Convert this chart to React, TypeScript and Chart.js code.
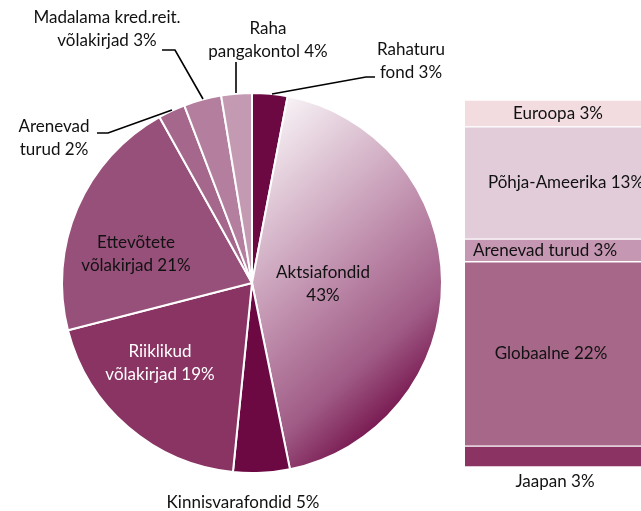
import React, { useEffect, useRef } from "react";
import { Chart, registerables } from "chart.js";

Chart.register(...registerables);

// ---- Pie data (clockwise from 12 o'clock) ----
const pieCategories = [
  "Rahaturu fond",
  "Aktsiafondid",
  "Kinnisvarafondid",
  "Riiklikud võlakirjad",
  "Ettevõtete võlakirjad",
  "Arenevad turud",
  "Madalama kred.reit. võlakirjad",
  "Raha pangakontol",
];
const pieValues = [3.0, 43.8, 4.8, 19.4, 20.9, 2.3, 3.2, 2.6];
const pieLabelText = [
  ["Rahaturu", "fond 3%"],
  ["Aktsiafondid", "43%"],
  ["Kinnisvarafondid 5%"],
  ["Riiklikud", "võlakirjad 19%"],
  ["Ettevõtete", "võlakirjad 21%"],
  ["Arenevad", "turud 2%"],
  ["Madalama kred.reit.", "võlakirjad 3%"],
  ["Raha", "pangakontol 4%"],
];

// ---- Stacked bar data (bottom to top) ----
const barCategories = ["Jaapan", "Globaalne", "Arenevad turud", "Põhja-Ameerika", "Euroopa"];
const barValues = [2.5, 22.0, 2.7, 13.4, 3.2];
const barLabelText = ["Jaapan 3%", "Globaalne 22%", "Arenevad turud 3%", "Põhja-Ameerika 13%", "Euroopa 3%"];

// ---- Styles / layout ----
const pieColors = ["#6C0842", null, "#6C0842", "#8A3464", "#975079", "#A5688C", "#B47E9F", "#C49AB3"];
const pieTextColors = ["#111", "#111", "#111", "#ffffff", "#111", "#111", "#111", "#111"];
const pieLabelPos = [
  [411, 50],
  [323, 273],
  [243, 503],
  [160, 352],
  [136, 243],
  [54, 127],
  [107, 18],
  [268, 29],
];
const leaderLines = [
  [[375, 77], [366, 77], [272, 94]],
  null,
  null,
  null,
  null,
  [[97, 133], [108, 133], [172, 110]],
  [[162, 50], [175, 50], [203, 99]],
  [[236, 62], [236, 93]],
];
const barColors = ["#8B3363", "#A66789", "#C597B2", "#E2CCDA", "#F2DCE0"];
const barLabelDx = [0, -4, -10, 11, 3];
const FONT = "17px Lato, 'Open Sans', sans-serif";
const LINE_H = 23;

export default function App() {
  const pieRef = useRef<HTMLCanvasElement>(null);
  const barRef = useRef<HTMLCanvasElement>(null);

  useEffect(() => {
    const pieCanvas = pieRef.current!;
    const barCanvas = barRef.current!;

    const pieLabelPlugin = {
      id: "pieLabels",
      afterDraw(chart: any) {
        const ctx = chart.ctx;
        ctx.save();
        ctx.strokeStyle = "#000";
        ctx.lineWidth = 1.6;
        leaderLines.forEach((pts) => {
          if (!pts) return;
          ctx.beginPath();
          ctx.moveTo(pts[0][0], pts[0][1]);
          for (let i = 1; i < pts.length; i++) ctx.lineTo(pts[i][0], pts[i][1]);
          ctx.stroke();
        });
        ctx.font = FONT;
        ctx.textAlign = "center";
        ctx.textBaseline = "middle";
        pieLabelText.forEach((lines, i) => {
          ctx.fillStyle = pieTextColors[i];
          lines.forEach((t, j) => {
            ctx.fillText(t, pieLabelPos[i][0], pieLabelPos[i][1] + j * LINE_H);
          });
        });
        ctx.restore();
      },
    };

    const pie = new Chart(pieCanvas, {
      type: "pie",
      data: {
        labels: pieCategories,
        datasets: [
          {
            data: pieValues,
            backgroundColor: (c: any) => {
              const i = c.dataIndex;
              if (pieColors[i]) return pieColors[i] as string;
              const ctx = c.chart.ctx;
              const g = ctx.createLinearGradient(270, 110, 482, 344);
              g.addColorStop(0, "#F8F3F6");
              g.addColorStop(0.53, "#BE8CAB");
              g.addColorStop(0.79, "#A05C86");
              g.addColorStop(1, "#73104A");
              return g;
            },
            borderColor: "#ffffff",
            borderWidth: 2,
          },
        ],
      },
      options: {
        responsive: false,
        animation: false,
        layout: { padding: { left: 61, top: 92, right: 198, bottom: 37 } },
        plugins: { legend: { display: false }, tooltip: { enabled: false } },
      },
      plugins: [pieLabelPlugin],
    });

    const barLabelPlugin = {
      id: "barLabels",
      afterDraw(chart: any) {
        const ctx = chart.ctx;
        ctx.save();
        ctx.font = FONT;
        ctx.textAlign = "center";
        ctx.textBaseline = "middle";
        ctx.fillStyle = "#111";
        chart.data.datasets.forEach((ds: any, i: number) => {
          const el = chart.getDatasetMeta(i).data[0];
          const cx = el.x + barLabelDx[i];
          let cy = (el.y + el.base) / 2;
          if (i === 0) cy = el.base + 15;
          ctx.fillText(barLabelText[i], cx, cy);
        });
        ctx.restore();
      },
    };

    const bar = new Chart(barCanvas, {
      type: "bar",
      data: {
        labels: ["Aktsiafondid"],
        datasets: barCategories.map((name, i) => ({
          label: name,
          data: [barValues[i]],
          backgroundColor: barColors[i],
          borderColor: "#ffffff",
          borderWidth: { top: 1, bottom: 1, left: 0, right: 0 },
          borderSkipped: false,
          categoryPercentage: 1,
          barPercentage: 1,
        })),
      },
      options: {
        responsive: false,
        animation: false,
        layout: { padding: { left: 25, right: 5, top: 100, bottom: 44 } },
        scales: {
          x: { stacked: true, display: false },
          y: {
            stacked: true,
            display: false,
            min: 0,
            max: barValues.reduce((a, b) => a + b, 0),
          },
        },
        plugins: { legend: { display: false }, tooltip: { enabled: false } },
      },
      plugins: [barLabelPlugin],
    });

    return () => {
      pie.destroy();
      bar.destroy();
    };
  }, []);

  return (
    <div
      style={{
        position: "fixed",
        left: 0,
        top: 0,
        width: 641,
        height: 511,
        overflow: "hidden",
        background: "#ffffff",
      }}
    >
      <canvas
        ref={pieRef}
        width={641}
        height={511}
        style={{ position: "absolute", left: 0, top: 0, width: 641, height: 511 }}
      />
      <canvas
        ref={barRef}
        width={210}
        height={511}
        style={{ position: "absolute", left: 440, top: 0, width: 210, height: 511 }}
      />
    </div>
  );
}
